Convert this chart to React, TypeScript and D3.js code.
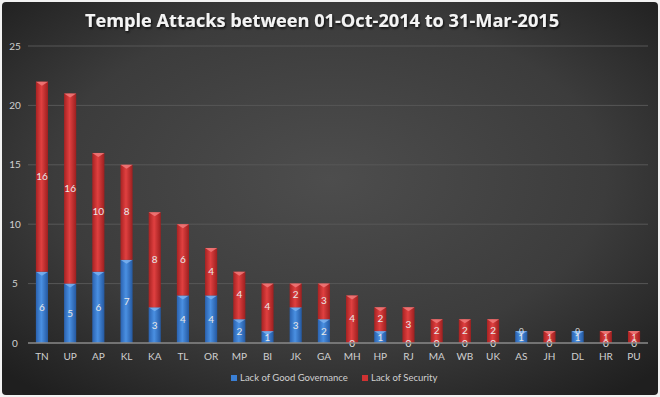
import React from "react";
import * as d3 from "d3";

const states = ["TN","UP","AP","KL","KA","TL","OR","MP","BI","JK","GA","MH","HP","RJ","MA","WB","UK","AS","JH","DL","HR","PU"];
const governance = [6,5,6,7,3,4,4,2,1,3,2,0,1,0,0,0,0,1,0,1,0,0];
const security = [16,16,10,8,8,6,4,4,4,2,3,4,2,3,2,2,2,0,1,0,1,1];
const yTicks = [0,5,10,15,20,25];
const seriesNames = ["Lack of Good Governance","Lack of Security"];

const W = 660, H = 397;
const margin = { left: 28, right: 12, top: 46, bottom: 54 };

export default function App() {
  const x = d3.scaleBand<string>().domain(states).range([margin.left, W - margin.right]).paddingInner(0.57).paddingOuter(0.28);
  const y = d3.scaleLinear().domain([0, 25]).range([H - margin.bottom, margin.top]);
  const bw = x.bandwidth();
  const font = "Lato, 'Open Sans', sans-serif";

  return (
    <svg width={W} height={H} style={{ position: "absolute", left: 0, top: 0, fontFamily: font }}>
      <defs>
        <radialGradient id="bg" cx="0.5" cy="0.45" r="0.7">
          <stop offset="0" stopColor="#4d4d4d" />
          <stop offset="0.6" stopColor="#3c3c3c" />
          <stop offset="1" stopColor="#1f1f1f" />
        </radialGradient>
        <linearGradient id="blue" x1="0" x2="1" y1="0" y2="0">
          <stop offset="0" stopColor="#2a62b0" />
          <stop offset="0.45" stopColor="#4a90e2" />
          <stop offset="1" stopColor="#2458a0" />
        </linearGradient>
        <linearGradient id="red" x1="0" x2="1" y1="0" y2="0">
          <stop offset="0" stopColor="#a82222" />
          <stop offset="0.45" stopColor="#e04040" />
          <stop offset="1" stopColor="#9c1f1f" />
        </linearGradient>
        <filter id="shadow" x="-10%" y="-30%" width="120%" height="160%">
          <feDropShadow dx="1" dy="1.5" stdDeviation="1" floodColor="#000" floodOpacity="0.8" />
        </filter>
      </defs>
      <rect x={0} y={0} width={W} height={H} fill="#f2f2f2" />
      <rect x={2} y={2} width={W - 4} height={H - 4} rx={4} fill="url(#bg)" />
      <text x={322} y={27} textAnchor="middle" fill="#f4f4f4" fontSize={18.2} fontWeight="bold" filter="url(#shadow)" style={{ fontFamily: "'Open Sans', sans-serif" }}>
        Temple Attacks between 01-Oct-2014 to 31-Mar-2015
      </text>
      {yTicks.map((t) => (
        <g key={t}>
          {t > 0 && <line x1={margin.left} x2={W - margin.right} y1={y(t)} y2={y(t)} stroke="#575757" strokeWidth={1} />}
          <text x={15} y={y(t) + 3.5} textAnchor="middle" fill="#d0d0d0" fontSize={10}>{t}</text>
        </g>
      ))}
      {states.map((s, i) => {
        const g = governance[i];
        const r = security[i];
        const x0 = x(s)!;
        return (
          <g key={s}>
            {g > 0 && <rect x={x0} y={y(g)} width={bw} height={y(0) - y(g)} fill="url(#blue)" />}
            {g > 0 && <path d={`M${x0},${y(g)} L${x0 + bw},${y(g)} L${x0 + bw / 2},${y(g) + 4} Z`} fill="#7fb4f0" opacity={0.8} />}
            {r > 0 && <rect x={x0} y={y(g + r)} width={bw} height={y(g) - y(g + r)} fill="url(#red)" />}
            {r > 0 && <path d={`M${x0},${y(g + r)} L${x0 + bw},${y(g + r)} L${x0 + bw / 2},${y(g + r) + 4} Z`} fill="#f07a7a" opacity={0.85} />}
            <text x={x0 + bw / 2} y={g > 0 ? (y(0) + y(g)) / 2 + 4 : y(0) + 4} textAnchor="middle" fill="#e8e8e8" fontSize={10}>{g}</text>
            <text x={x0 + bw / 2} y={r > 0 ? (y(g) + y(g + r)) / 2 + 3 : y(g) + 3} textAnchor="middle" fill="#e8e8e8" fontSize={r > 1 ? 10 : 8}>{r}</text>
          </g>
        );
      })}
      <line x1={margin.left} x2={W - margin.right} y1={y(0)} y2={y(0)} stroke="#8a8a8a" strokeWidth={1.5} />
      {states.map((s) => (
        <text key={s} x={x(s)! + bw / 2} y={y(0) + 17} textAnchor="middle" fill="#d0d0d0" fontSize={10}>{s}</text>
      ))}
      <g transform="translate(231,381)">
        <rect x={0} y={-6} width={6} height={6} fill="#3a7fd4" />
        <text x={9} y={0} fill="#d0d0d0" fontSize={9.5}>{seriesNames[0]}</text>
        <rect x={131} y={-6} width={6} height={6} fill="#d03232" />
        <text x={140} y={0} fill="#d0d0d0" fontSize={9.5}>{seriesNames[1]}</text>
      </g>
    </svg>
  );
}
